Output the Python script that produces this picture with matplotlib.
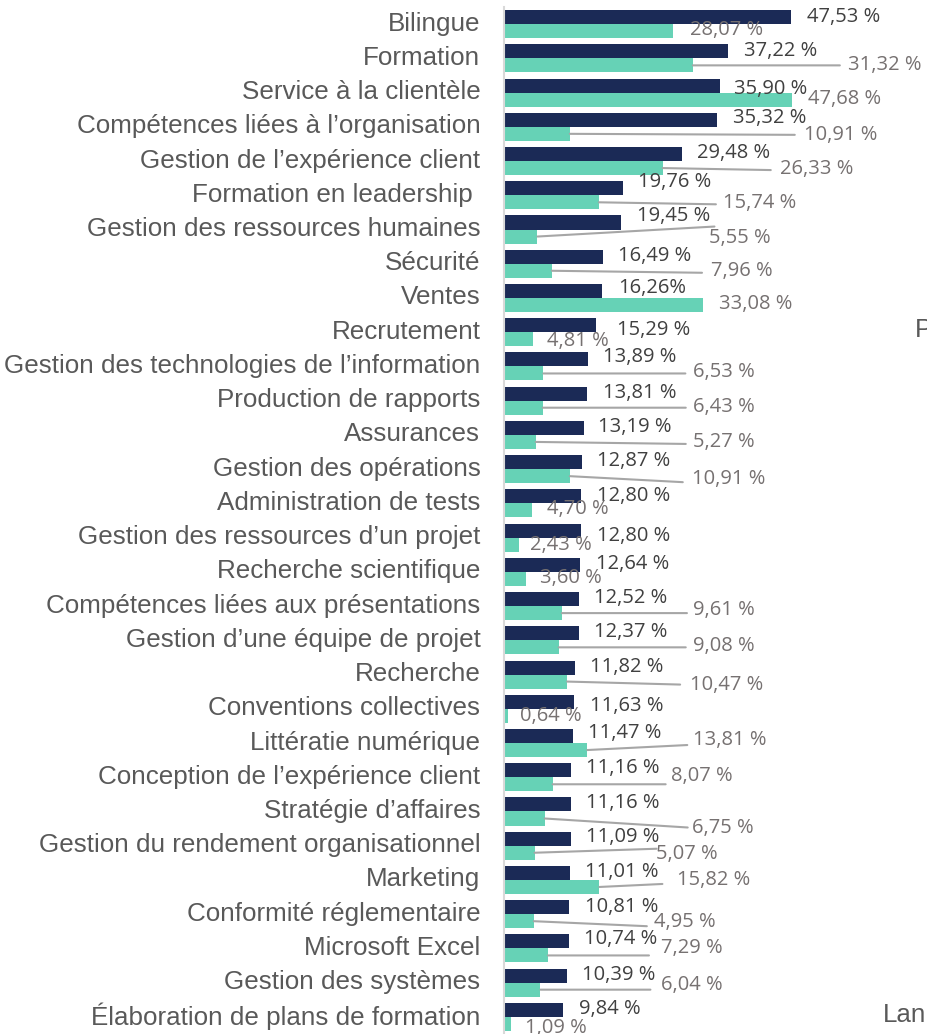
import numpy as np
import matplotlib.pyplot as plt
import matplotlib.transforms as mtransforms

# Categories (top to bottom) and the two series, in percent
categories = [
    "Bilingue", "Formation", "Service à la clientèle",
    "Compétences liées à l’organisation", "Gestion de l’expérience client",
    "Formation en leadership ", "Gestion des ressources humaines", "Sécurité",
    "Ventes", "Recrutement", "Gestion des technologies de l’information",
    "Production de rapports", "Assurances", "Gestion des opérations",
    "Administration de tests", "Gestion des ressources d’un projet",
    "Recherche scientifique", "Compétences liées aux présentations",
    "Gestion d’une équipe de projet", "Recherche", "Conventions collectives",
    "Littératie numérique", "Conception de l’expérience client",
    "Stratégie d’affaires", "Gestion du rendement organisationnel",
    "Marketing", "Conformité réglementaire", "Microsoft Excel",
    "Gestion des systèmes", "Élaboration de plans de formation",
]
series_dark = [47.53, 37.22, 35.90, 35.32, 29.48, 19.76, 19.45, 16.49, 16.26, 15.29,
               13.89, 13.81, 13.19, 12.87, 12.80, 12.80, 12.64, 12.52, 12.37, 11.82,
               11.63, 11.47, 11.16, 11.16, 11.09, 11.01, 10.81, 10.74, 10.39, 9.84]
series_teal = [28.07, 31.32, 47.68, 10.91, 26.33, 15.74, 5.55, 7.96, 33.08, 4.81,
               6.53, 6.43, 5.27, 10.91, 4.70, 2.43, 3.60, 9.61, 9.08, 10.47,
               0.64, 13.81, 8.07, 6.75, 5.07, 15.82, 4.95, 7.29, 6.04, 1.09]
# one label in the original is written without the space
dark_text = ["{:.2f} %".format(v).replace(".", ",") for v in series_dark]
dark_text[8] = "16,26%"
teal_text = ["{:.2f} %".format(v).replace(".", ",") for v in series_teal]

# label placement (pixel offsets from the bar end, image y downwards)
dark_off = [(16, 0), (16, 0), (14, 3), (16, -2), (15, -1), (15, -6), (16, -6), (15, -1),
            (16, -3), (21, 5), (15, -2), (16, -1), (14, -1), (15, -1), (16, 0), (16, 5),
            (16, -1), (15, -1), (15, -1), (15, -1), (16, 4), (15, -3), (15, -2), (15, -1),
            (15, -2), (15, -1), (16, 0), (15, -2), (15, -1), (16, -1)]
teal_off = [(17, -1), (155, 0), (16, -1), (234, 1), (117, 1), (124, 1), (172, 1), (159, 0),
            (16, -1), (14, 2), (150, -1), (150, -1), (157, 0), (122, 3), (15, -1), (11, 0),
            (14, -1), (131, -3), (134, -1), (123, 3), (12, 0), (106, -10), (118, -8), (147, 9),
            (121, 1), (78, -7), (120, 1), (113, -7), (121, -5), (14, 4)]
# leader lines: (start dx, start dy, end dx, end dy) from the teal bar end
leaders = {1: (0, 0, 147, 0), 3: (0, -1, 225, 1), 4: (0, 1, 108, 2), 5: (0, 0, 117, 2),
           6: (157, -10, 177, -10), 7: (0, 0, 150, 2), 10: (0, 0, 142, 0),
           11: (0, 0, 143, 0), 12: (0, 0, 150, 2), 13: (0, 0, 113, 6), 17: (0, 0, 125, 0),
           18: (0, 0, 127, 0), 19: (0, 0, 113, 3), 21: (1, -5, 100, -5), 22: (0, 0, 113, 0),
           23: (0, 0, 143, 9), 24: (108, -4, 122, -4), 25: (0, -4, 63, -3),
           26: (0, 0, 113, 5), 27: (0, 0, 101, 0), 28: (0, 0, 110, 0)}

DARK = "#1b2a56"
TEAL = "#66d2b6"
W, H = 927, 1034

fig = plt.figure(figsize=(W / 100, H / 100), dpi=100)
ax_left = 504 / W
ax = fig.add_axes([ax_left, 0, 1 - ax_left, (H - 7) / H])

n = len(categories)
y = np.arange(n)
bh = 0.41
ax.barh(y - bh / 2, series_dark, height=bh, color=DARK)
ax.barh(y + bh / 2, series_teal, height=bh, color=TEAL)

ax.set_xlim(0, (W - 504) / 6.03)
ax.set_ylim(n - 0.5, -0.5)
ax.set_xticks([])
ax.set_yticks(y)
ax.set_yticklabels(categories, fontsize=18.7, color="#595959", family="Liberation Sans")
ax.tick_params(axis="y", length=0, pad=17)
# category names sit a little above the row centre
shift = mtransforms.ScaledTranslation(0, 3 / 100, fig.dpi_scale_trans)
for lbl in ax.get_yticklabels():
    lbl.set_transform(lbl.get_transform() + shift)
for s in ["top", "right", "bottom"]:
    ax.spines[s].set_visible(False)
ax.spines["left"].set_color("#d9d9d9")
ax.spines["left"].set_linewidth(1.5)

lab_font = dict(family="Open Sans", fontsize=14.5, ha="left", va="center")
for i in range(n):
    dx, dy = dark_off[i]
    ax.annotate(dark_text[i], xy=(series_dark[i], i - bh / 2), xytext=(dx, -dy),
                textcoords="offset pixels", color="#404040", **lab_font)
    dx, dy = teal_off[i]
    ax.annotate(teal_text[i], xy=(series_teal[i], i + bh / 2), xytext=(dx, -dy),
                textcoords="offset pixels", color="#767171", **lab_font)
    if i in leaders:
        x0, y0, x1, y1 = leaders[i]
        ax.annotate("", xy=(series_teal[i], i + bh / 2), xytext=(x1, -y1),
                    textcoords="offset pixels",
                    arrowprops=dict(arrowstyle="-", color="#a6a6a6", lw=1.5,
                                    shrinkA=0, shrinkB=0))

# cut-off texts at the right edge of the original
fig.text(915 / W, 1 - 330 / H, "P", fontsize=18.7, color="#595959",
         family="Liberation Sans", va="center")
fig.text(883 / W, 1 - 1015 / H, "Lan", fontsize=18.7, color="#595959",
         family="Liberation Sans", va="center")

fig.savefig("out.png", dpi=100)
